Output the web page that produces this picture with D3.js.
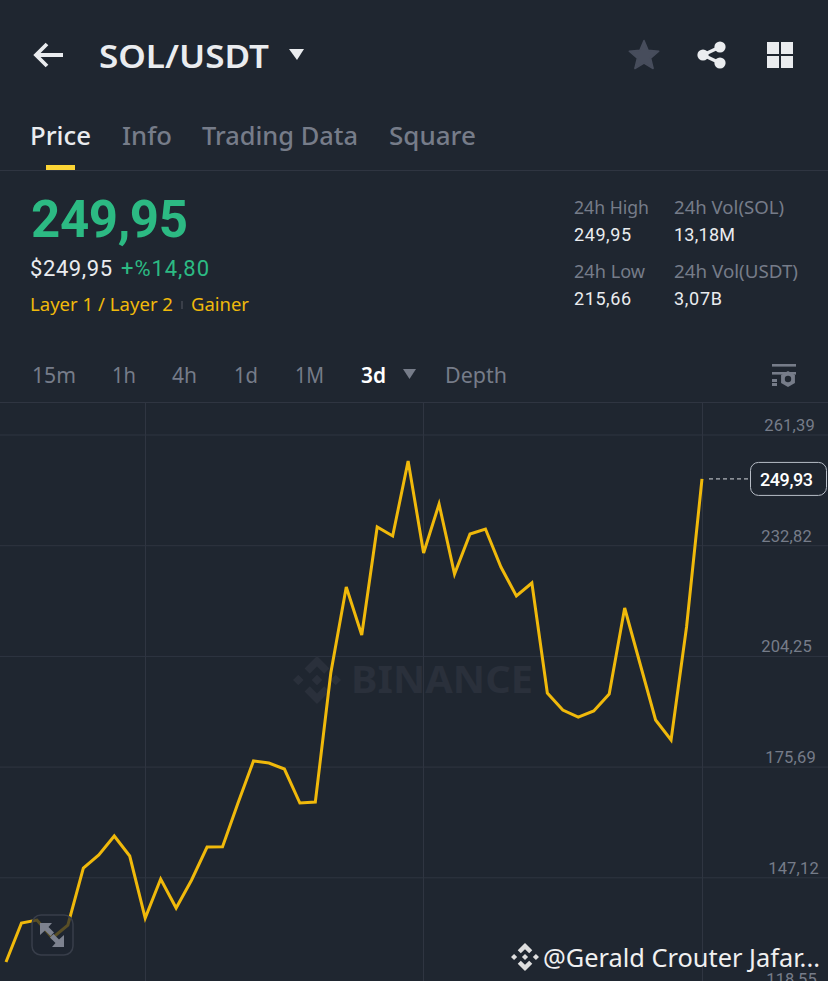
<!DOCTYPE html>
<html>
<head>
<meta charset="utf-8">
<title>SOL/USDT</title>
<script src="https://cdn.jsdelivr.net/npm/d3@7/dist/d3.min.js"></script>
<style>
    html, body { margin: 0; padding: 0; background: #1f2630; overflow: hidden; }
    svg { display: block; font-family: "Noto Sans", Roboto, sans-serif; }
</style>
</head>
<body>
<svg id="chart" width="828" height="981"></svg>
<script>
// price series
const prices = [
    125.25, 135.32, 136.09, 131.45, 134.80, 149.51, 152.87, 157.77, 152.61, 136.61,
    146.67, 139.19, 146.42, 154.93, 155.01, 166.29, 177.13, 176.61, 175.06, 166.29,
    166.55, 199.84, 222.03, 209.64, 237.52, 235.19, 254.55, 230.81, 243.45, 225.39,
    235.71, 237.00, 227.19, 219.71, 223.07, 194.68, 190.29, 188.48, 190.03, 194.42,
    216.61, 202.16, 187.71, 182.55, 211.71, 249.93
];
const priceTicks = [261.39, 232.82, 204.25, 175.69, 147.12, 118.55];
const timeGridIndexes = [9, 27, 45];
const lastPrice = 249.93;
const tabs = ['Price', 'Info', 'Trading Data', 'Square'];
const intervals = ['15m', '1h', '4h', '1d', '1M', '3d', 'Depth'];

const commaFormat = v => d3.format('.2f')(v).replace('.', ',');

const svg = d3.select('#chart');
const WHITE = '#eaecef';
const GREY = '#767c89';
const GREEN = '#2cba83';
const YELLOW = '#f0b90b';
const GRID = '#2f3541';
const BG = '#1f2630';
const NUM_FONT = 'Roboto, "Noto Sans", sans-serif';

// plain text helper, width pins the text to the measured run length
function label(parent, text, x, y, size, color, weight, width) {
    const t = parent.append('text')
        .attr('x', x)
        .attr('y', y)
        .attr('font-size', size)
        .attr('font-weight', weight || 400)
        .attr('fill', color)
        .text(text);
    if (width) t.attr('textLength', width).attr('lengthAdjust', 'spacingAndGlyphs');
    return t;
}

// same, for figures: the app's digits are narrow and widely spaced
function numLabel(parent, text, x, y, size, color, weight, width) {
    return label(parent, text, x, y, size, color, weight, width)
        .attr('font-family', NUM_FONT)
        .attr('lengthAdjust', 'spacing');
}

// binance mark, unit radius
const logoPath = 'M0,-1L.52,-.48L.3,-.26L0,-.56L-.3,-.26L-.52,-.48Z' +
    'M0,1L.52,.48L.3,.26L0,.56L-.3,.26L-.52,.48Z' +
    'M0,-.22L.22,0L0,.22L-.22,0Z' +
    'M-.78,-.22L-.56,0L-.78,.22L-1,0Z' +
    'M.78,-.22L1,0L.78,.22L.56,0Z';

function drawLogo(parent, cx, cy, r, color) {
    parent.append('path')
        .attr('d', logoPath)
        .attr('transform', `translate(${cx},${cy}) scale(${r})`)
        .attr('fill', color);
}

function drawHeader() {
    const g = svg.append('g');

    // back arrow
    g.append('path')
        .attr('d', 'M63,55H36M47,44L36,55L47,66')
        .attr('fill', 'none')
        .attr('stroke', WHITE)
        .attr('stroke-width', 3.8);

    label(g, 'SOL/USDT', 99, 68, 33, WHITE, 600, 170);
    g.append('path').attr('d', 'M289,49H304L297,60Z').attr('fill', WHITE);

    // star
    const star = d3.range(10).map(i => {
        const r = i % 2 ? 7 : 15.5;
        const a = Math.PI * i / 5;
        return [r * Math.sin(a), -r * Math.cos(a)];
    });
    g.append('path')
        .attr('d', d3.line()(star) + 'Z')
        .attr('transform', 'translate(644,56)')
        .attr('fill', '#474d5c')
        .attr('stroke', '#474d5c')
        .attr('stroke-width', 1.5)
        .attr('stroke-linejoin', 'round');

    // share
    g.append('path')
        .attr('d', 'M720,47L703,55L720,63')
        .attr('fill', 'none')
        .attr('stroke', WHITE)
        .attr('stroke-width', 3.4);
    g.selectAll('circle.share')
        .data([[720, 47, 5.6], [703, 55, 5.6], [720, 63, 5.6]])
        .join('circle')
        .attr('cx', d => d[0])
        .attr('cy', d => d[1])
        .attr('r', d => d[2])
        .attr('fill', WHITE);

    // grid icon
    g.selectAll('rect.cell')
        .data([[767, 42], [781, 42], [767, 56], [781, 56]])
        .join('rect')
        .attr('x', d => d[0])
        .attr('y', d => d[1])
        .attr('width', 12)
        .attr('height', 12)
        .attr('fill', WHITE);

    // tabs
    const tabX = [30, 122, 202, 389];
    const tabW = [61, 50, 156, 87];
    tabs.forEach((t, i) => {
        label(g, t, tabX[i], 145, 25.5, i === 0 ? WHITE : GREY, 500, tabW[i]);
    });
    g.append('rect')
        .attr('x', 46).attr('y', 165)
        .attr('width', 29).attr('height', 5)
        .attr('fill', '#fcd535');
    g.append('rect')
        .attr('x', 0).attr('y', 170)
        .attr('width', 828).attr('height', 1)
        .attr('fill', GRID);
}

function drawStats() {
    const g = svg.append('g');

    numLabel(g, '249,95', 31, 237, 51, GREEN, 700, 157);
    numLabel(g, '$249,95', 30, 276, 22, WHITE, 400, 82);
    numLabel(g, '+%14,80', 121, 276, 22, GREEN, 400, 88);
    label(g, 'Layer 1 / Layer 2', 30, 311, 18.5, YELLOW, 400, 143);
    g.append('rect')
        .attr('x', 181).attr('y', 301)
        .attr('width', 2).attr('height', 8)
        .attr('fill', '#3a3f49');
    label(g, 'Gainer', 191, 311, 18.5, YELLOW, 400, 58);

    label(g, '24h High', 574, 214, 18.5, GREY, 400, 75);
    numLabel(g, '249,95', 574, 241, 18, WHITE, 400, 57);
    label(g, '24h Low', 574, 278, 18.5, GREY, 400, 71);
    numLabel(g, '215,66', 574, 305, 18, WHITE, 400, 57);
    label(g, '24h Vol(SOL)', 674, 214, 18.5, GREY, 400, 110);
    numLabel(g, '13,18M', 674, 241, 18, WHITE, 400, 61);
    label(g, '24h Vol(USDT)', 674, 278, 18.5, GREY, 400, 124);
    numLabel(g, '3,07B', 674, 305, 18, WHITE, 400, 48);
}

function drawIntervals() {
    const g = svg.append('g');
    const intervalX = [32, 112, 172, 234, 295, 361, 445];
    const intervalW = [44, 24, 25, 24, 29, 25, 62];
    intervals.forEach((t, i) => {
        const active = t === '3d';
        label(g, t, intervalX[i], 383, 22, active ? '#ffffff' : GREY, active ? 600 : 400, intervalW[i]);
    });
    g.append('path').attr('d', 'M403,369H416L409.5,379Z').attr('fill', GREY);

    // settings icon
    g.append('rect').attr('x', 772).attr('y', 364).attr('width', 24).attr('height', 2.6).attr('fill', GREY);
    g.append('rect').attr('x', 772).attr('y', 372).attr('width', 24).attr('height', 2.6).attr('fill', GREY);
    g.append('rect').attr('x', 772).attr('y', 379).attr('width', 5).attr('height', 3).attr('fill', GREY);
    g.append('rect').attr('x', 772).attr('y', 383).attr('width', 5).attr('height', 3).attr('fill', GREY);
    const hex = d3.range(6).map(i => {
        const a = Math.PI * i / 3;
        return [8 * Math.sin(a), -8 * Math.cos(a)];
    });
    g.append('path').attr('d', d3.line()(hex) + 'Z').attr('transform', 'translate(788,379)').attr('fill', GREY);
    g.append('circle').attr('cx', 788).attr('cy', 379).attr('r', 3.2).attr('fill', BG);
}

function drawChart() {
    const x = d3.scaleLinear().domain([0, prices.length - 1]).range([6, 702]);
    const y = d3.scaleLinear().domain([261.39, 118.55]).range([434.5, 988]);

    const top = svg.append('g');
    top.append('rect')
        .attr('x', 0).attr('y', 402)
        .attr('width', 828).attr('height', 1)
        .attr('fill', GRID);

    // vertical grid
    top.selectAll('line.vgrid')
        .data(timeGridIndexes)
        .join('line')
        .attr('class', 'vgrid')
        .attr('x1', d => Math.floor(x(d)) + 0.5)
        .attr('x2', d => Math.floor(x(d)) + 0.5)
        .attr('y1', 403)
        .attr('y2', 981)
        .attr('stroke', GRID);

    // horizontal grid and labels come from the axis
    const axis = d3.axisRight(y)
        .tickValues(priceTicks)
        .tickSize(828)
        .tickFormat(commaFormat);
    const axisG = svg.append('g').call(axis);
    axisG.select('.domain').remove();
    axisG.selectAll('.tick line').attr('stroke', GRID);

    // the photographed labels do not share one right edge
    const tickRight = [815, 812, 812, 816, 819, 817];
    axisG.selectAll('.tick text')
        .attr('x', (d, i) => tickRight[i])
        .attr('dy', '-4')
        .attr('text-anchor', 'end')
        .attr('font-family', NUM_FONT)
        .attr('font-size', 16.5)
        .attr('letter-spacing', 0.2)
        .attr('fill', GREY);

    // watermark
    const mark = svg.append('g');
    drawLogo(mark, 317, 680, 24, '#2a303b');
    label(mark, 'BINANCE', 351, 693, 38, '#2a303b', 700, 182);

    // price line
    const line = d3.line()
        .x((d, i) => x(i))
        .y(d => y(d));
    svg.append('path')
        .datum(prices)
        .attr('d', line)
        .attr('fill', 'none')
        .attr('stroke', YELLOW)
        .attr('stroke-width', 3)
        .attr('stroke-linejoin', 'miter');

    // current price marker
    svg.append('line')
        .attr('x1', 709)
        .attr('x2', 750)
        .attr('y1', y(lastPrice))
        .attr('y2', y(lastPrice))
        .attr('stroke', '#d5d8dd')
        .attr('stroke-dasharray', '4 3');
    svg.append('rect')
        .attr('x', 750.5)
        .attr('y', y(lastPrice) - 16.5)
        .attr('width', 76)
        .attr('height', 33)
        .attr('rx', 8)
        .attr('fill', BG)
        .attr('stroke', '#b7bdc6');
    numLabel(svg, commaFormat(lastPrice), 760, y(lastPrice) + 7, 18, '#ffffff', 500, 53);

    // fullscreen button sits over the line and dims it
    const btn = svg.append('g');
    btn.append('rect')
        .attr('x', 32).attr('y', 915)
        .attr('width', 41).attr('height', 40)
        .attr('rx', 9)
        .attr('fill', 'rgba(31,38,48,0.72)')
        .attr('stroke', '#383e4a')
        .attr('stroke-width', 1.5);
    btn.append('path')
        .attr('d', 'M40,923H52L48.5,927L54,932.5L50.5,936L45,930.5L40,935Z' +
            'M64,947H52L55.5,943L50,937.5L53.5,934L59,939.5L64,935Z')
        .attr('fill', '#7d828f');

    // footer attribution
    const foot = svg.append('g');
    drawLogo(foot, 525, 957, 14, '#dedede');
    label(foot, '@Gerald Crouter Jafar...', 543, 967, 25, '#f0f0f0', 400, 277);
}

drawHeader();
drawStats();
drawIntervals();
drawChart();
</script>
</body>
</html>
